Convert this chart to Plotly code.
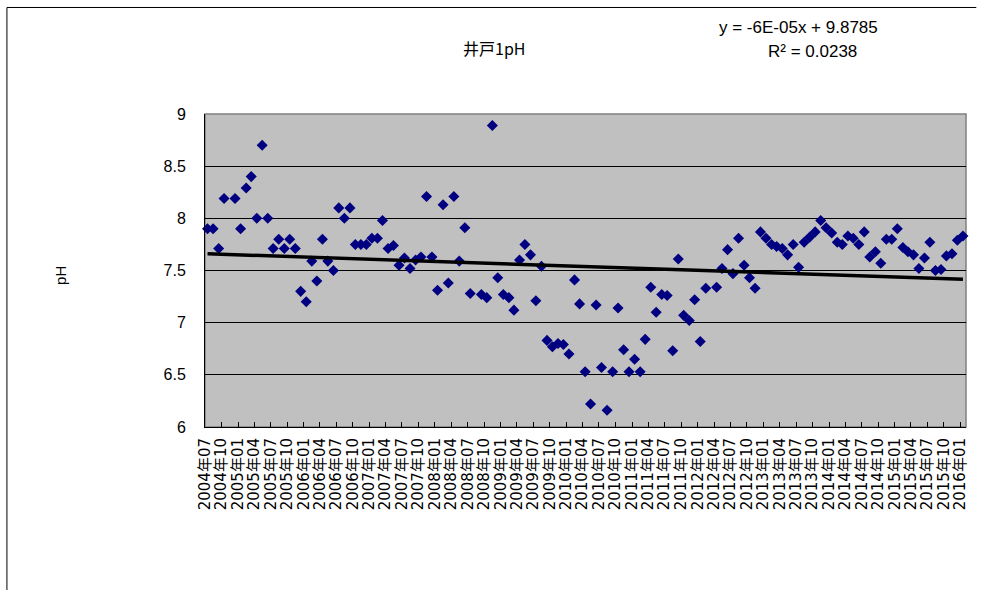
import datetime as dt
import plotly.graph_objects as go

# ---- data ----
months = [
    "2004-07", "2004-08", "2004-09", "2004-10", "2004-12", "2005-01", "2005-02", "2005-03",
    "2005-04", "2005-05", "2005-06", "2005-07", "2005-08", "2005-09", "2005-10", "2005-11",
    "2005-12", "2006-01", "2006-02", "2006-03", "2006-04", "2006-05", "2006-06", "2006-07",
    "2006-08", "2006-09", "2006-10", "2006-11", "2006-12", "2007-01", "2007-02", "2007-03",
    "2007-04", "2007-05", "2007-06", "2007-07", "2007-08", "2007-09", "2007-10", "2007-11",
    "2007-12", "2008-01", "2008-02", "2008-03", "2008-04", "2008-05", "2008-06", "2008-07",
    "2008-09", "2008-10", "2008-11", "2008-12", "2009-01", "2009-02", "2009-03", "2009-04",
    "2009-05", "2009-06", "2009-07", "2009-08", "2009-09", "2009-10", "2009-11", "2009-12",
    "2010-01", "2010-02", "2010-03", "2010-04", "2010-05", "2010-06", "2010-07", "2010-08",
    "2010-09", "2010-10", "2010-11", "2010-12", "2011-01", "2011-02", "2011-03", "2011-04",
    "2011-05", "2011-06", "2011-07", "2011-08", "2011-09", "2011-10", "2011-11", "2011-12",
    "2012-01", "2012-02", "2012-04", "2012-05", "2012-06", "2012-07", "2012-08", "2012-09",
    "2012-10", "2012-11", "2012-12", "2013-01", "2013-02", "2013-03", "2013-04", "2013-05",
    "2013-06", "2013-07", "2013-08", "2013-09", "2013-10", "2013-11", "2013-12", "2014-01",
    "2014-02", "2014-03", "2014-04", "2014-05", "2014-06", "2014-07", "2014-08", "2014-09",
    "2014-10", "2014-11", "2014-12", "2015-01", "2015-02", "2015-03", "2015-04", "2015-05",
    "2015-06", "2015-07", "2015-08", "2015-09", "2015-10", "2015-11", "2015-12", "2016-01",
]
ph = [
    7.90, 7.90, 7.71, 8.19, 8.19, 7.90, 8.29, 8.40,
    8.00, 8.70, 8.00, 7.71, 7.80, 7.71, 7.80, 7.71,
    7.30, 7.20, 7.59, 7.40, 7.80, 7.59, 7.50, 8.10,
    8.00, 8.10, 7.75, 7.75, 7.75, 7.81, 7.81, 7.98,
    7.71, 7.74, 7.55, 7.62, 7.52, 7.60, 7.63, 8.21,
    7.63, 7.31, 8.13, 7.38, 8.21, 7.59, 7.91, 7.28,
    7.27, 7.24, 8.89, 7.43, 7.27, 7.24, 7.12, 7.60,
    7.75, 7.65, 7.21, 7.54, 6.83, 6.77, 6.80, 6.79,
    6.70, 7.41, 7.18, 6.53, 6.22, 7.17, 6.57, 6.16,
    6.53, 7.14, 6.74, 6.53, 6.65, 6.53, 6.84, 7.34,
    7.10, 7.27, 7.26, 6.73, 7.61, 7.07, 7.02, 7.22,
    6.82, 7.33, 7.34, 7.52, 7.70, 7.47, 7.81, 7.55,
    7.43, 7.33, 7.87, 7.81, 7.75, 7.73, 7.71, 7.65,
    7.75, 7.53, 7.77, 7.82, 7.87, 7.98, 7.91, 7.86,
    7.77, 7.75, 7.83, 7.81, 7.75, 7.87, 7.63, 7.68,
    7.57, 7.80, 7.80, 7.90, 7.72, 7.68, 7.65, 7.52,
    7.62, 7.77, 7.50, 7.51, 7.64, 7.66, 7.79, 7.83,
]
sample_day = 15
trend_slope = -5.81e-5      # per day (Excel serial date)
trend_intercept = 9.8785
title_text = "井戸1pH"
equation_text = "y = -6E-05x + 9.8785"
r2_text = "R² = 0.0238"
y_title = "pH"
x_range = ["2004-07-01", "2016-02-01"]
y_ticks = [6, 6.5, 7, 7.5, 8, 8.5, 9]

# ---- derived ----
dates = [dt.date(int(m[:4]), int(m[5:]), sample_day) for m in months]
excel_epoch = dt.date(1899, 12, 30)
serial = [(d - excel_epoch).days for d in dates]
trend_x = [dates[0], dates[-1]]
trend_y = [trend_intercept + trend_slope * serial[0], trend_intercept + trend_slope * serial[-1]]

fig = go.Figure()
fig.add_trace(go.Scatter(
    x=dates, y=ph, mode="markers",
    marker=dict(symbol="diamond", size=8.5, color="#000080", line=dict(width=0)),
    showlegend=False, cliponaxis=False,
))
fig.add_trace(go.Scatter(
    x=trend_x, y=trend_y, mode="lines",
    line=dict(color="black", width=3.5), showlegend=False,
))

# body margin is removed by post_script, so figure pixels == window pixels
W, H = 985, 590
PL, PR, PT, PB = 205, 965.7, 114.3, 426.7   # plot area in window pixels
L, T, R, B = PL, PT, W - PR, H - PB
pw, ph_ = PR - PL, PB - PT

def px(xp):
    return (xp - PL) / pw

def py(yp):
    return (PB - yp) / ph_

font_cjk = "Noto Sans CJK JP, Liberation Sans, sans-serif"
font_lat = "Liberation Sans, Arial, sans-serif"

fig.update_layout(
    width=W, height=H,
    margin=dict(l=L, r=R, t=T, b=B, pad=0),
    paper_bgcolor="white", plot_bgcolor="#C0C0C0",
    font=dict(family=font_cjk, color="black"),
    xaxis=dict(
        type="date", range=x_range,
        tick0="2004-07-01", dtick="M3", tickformat="%Y年%m",
        tickangle=-90, ticks="inside", ticklen=5, tickcolor="black",
        tickfont=dict(size=15, family="DejaVu Sans, Noto Sans CJK JP, sans-serif"),
        ticklabelstandoff=4,
        showgrid=False, showline=True, linecolor="black", linewidth=1,
        zeroline=False, fixedrange=True,
    ),
    yaxis=dict(
        range=[6, 9], tickvals=y_ticks, ticktext=[f"{v:g}" for v in y_ticks],
        tickfont=dict(size=16, family=font_lat),
        ticks="", ticklabelstandoff=15,
        showgrid=False, showline=True, linecolor="black", linewidth=1,
        zeroline=False, fixedrange=True,
        minor=dict(tickvals=y_ticks[1:-1], showgrid=True, gridcolor="black", gridwidth=1, ticks=""),
    ),
    shapes=[
        dict(type="rect", xref="paper", yref="paper", x0=0, x1=1, y0=0, y1=1,
             line=dict(color="#808080", width=1.5), layer="below"),
        dict(type="line", xref="paper", yref="paper", x0=px(7), x1=px(7), y0=py(8), y1=py(600),
             line=dict(color="black", width=1)),
        dict(type="line", xref="paper", yref="paper", x0=px(7), x1=px(976), y0=py(8), y1=py(8),
             line=dict(color="black", width=1)),
    ],
    annotations=[
        dict(text=title_text, xref="paper", yref="paper", x=px(494), y=py(48),
             showarrow=False, font=dict(size=16, family=font_cjk), xanchor="center", yanchor="middle"),
        dict(text=equation_text, xref="paper", yref="paper", x=px(798), y=py(28),
             showarrow=False, font=dict(size=17, family=font_lat),
             xanchor="center", yanchor="middle"),
        dict(text=r2_text, xref="paper", yref="paper", x=px(812), y=py(52),
             showarrow=False, font=dict(size=17, family=font_lat),
             xanchor="center", yanchor="middle"),
        dict(text=y_title, xref="paper", yref="paper", x=px(60), y=py(275),
             showarrow=False, textangle=-90, font=dict(size=15, family=font_lat),
             xanchor="center", yanchor="middle"),
    ],
)

fig.write_html(
    "out.html",
    config={"displayModeBar": False, "staticPlot": True},
    post_script="document.body.style.margin='0px';document.body.style.overflow='hidden';",
)
